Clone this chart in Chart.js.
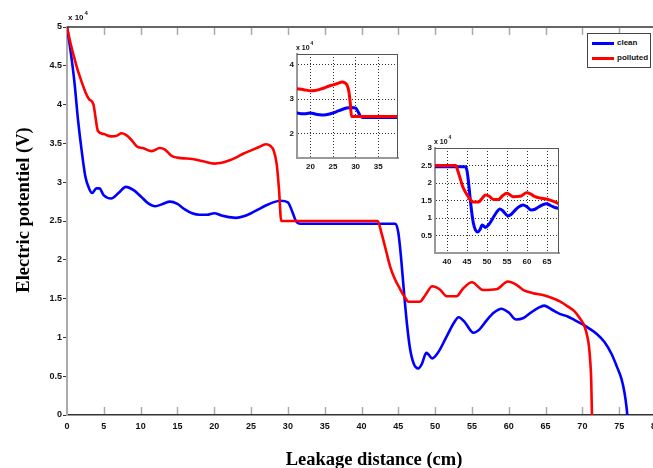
<!DOCTYPE html>
<html><head><meta charset="utf-8">
<script src="https://cdn.jsdelivr.net/npm/chart.js@4.4.1/dist/chart.umd.min.js"></script>
<style>
html,body{margin:0;padding:0;background:#fff;overflow:hidden;width:653px;height:468px;}
#wrap{position:relative;width:653px;height:468px;overflow:hidden;}
canvas{position:absolute;}
#legend{position:absolute;left:587px;top:33px;width:64px;height:35px;box-sizing:border-box;border:1px solid #444;background:#fff;font:bold 8px "Liberation Sans",Arial,sans-serif;color:#111;}
#legend .row{position:absolute;left:0;height:10px;width:62px;}
#legend .sw{position:absolute;left:4px;top:4px;width:22px;height:3px;}
#legend .lb{position:absolute;left:29px;top:0;line-height:10px;}
</style>
</head><body>
<div id="wrap">
  <canvas id="main" width="680" height="468" style="left:0;top:0"></canvas>
  <canvas id="inset1" width="135" height="137" style="left:270px;top:38px"></canvas>
  <canvas id="inset2" width="157" height="142" style="left:408px;top:128px"></canvas>
  <div id="legend"></div>
</div>
<script>
// ---- data (potential in volts, distance in cm) ----
const cleanDist = [0,0.5,1,1.5,2,2.5,3,3.4,4,4.4,5,6,7,8,9,10,11,12,13,14,15,16,17,18,19,20,21,22,23,24,25,26,27,28,29,30,30.6,31.1,31.6,38,44.6,45.0,45.4,45.8,46.2,46.6,47.1,47.7,48.2,48.8,49.1,49.6,50.5,51.5,52.5,53.2,54,55.2,56,57,58,59,60,61,62,63,64,64.8,66,67,68,69,70,71,72,73,74,74.7,75.3,75.7,76,76.1];
const cleanPot  = [50000,46800,43000,38000,34000,30700,29200,28600,29200,29200,28300,27900,28600,29400,29000,28200,27300,26900,27200,27500,27200,26500,26000,25800,25800,26000,25700,25500,25400,25600,26000,26500,27000,27400,27600,27400,26200,25000,24650,24650,24650,23500,20000,15500,11500,8500,6600,6000,6600,8000,7800,7300,8200,10000,11800,12600,12000,10600,11000,12200,13200,13700,13200,12300,12500,13200,13800,14100,13500,13000,12700,12200,11700,11100,10400,9400,7800,6200,4700,3000,1000,0];
const pollutedDist = [0,0.5,1,1.5,2,2.5,3,3.6,3.85,4.2,5,6,6.8,7.4,8,8.7,9.5,10.3,11.5,12.6,13.3,14.2,15.5,17,18.5,20,21,22,23,24,25,26,27,27.6,28.1,28.5,28.8,29.1,35,42.2,42.7,43.3,43.9,44.5,45.2,45.8,46.4,47.9,48.7,49.6,50.6,51.6,52.9,53.8,55,56.5,58.3,59.9,61,62,63.3,64.5,65.8,67,68,69,69.7,70.3,70.7,70.9,71.1,71.2,71.3];
const pollutedPot  = [50000,47800,46000,44300,42900,41600,40700,40000,38500,36600,36200,35900,36000,36300,36100,35500,34600,34400,34000,34400,34200,33400,33100,33000,32700,32400,32500,32800,33200,33700,34100,34500,34900,34700,34000,32200,29000,25000,25000,25000,23500,21300,19100,17600,16300,15300,14600,14600,15500,16600,16200,15300,15300,16300,17100,16100,16200,17200,16800,16100,15700,15500,15100,14600,14000,13300,12400,11400,10000,8800,6500,4500,0];
const seriesNames  = ['clean', 'polluted'];
const seriesColors = ['#0000ff', '#ff0000'];
const mainXTicks = [0,5,10,15,20,25,30,35,40,45,50,55,60,65,70,75,80];
const mainYTicks = [0,5000,10000,15000,20000,25000,30000,35000,40000,45000,50000];
const inset1XTicks = [20,25,30,35];
const inset1YTicks = [20000,30000,40000];
const inset2XTicks = [40,45,50,55,60,65];
const inset2YTicks = [5000,10000,15000,20000,25000,30000];
const xTitle = 'Leakage distance (cm)';
const yTitle = 'Electric potentiel (V)';
const multLabel = 'x 10';
const multExp = '4';

const SANS = '"Liberation Sans", Arial, sans-serif';
const SERIF = '"Liberation Serif", "Times New Roman", serif';

function pts(xs, ys){ return xs.map((x,i)=>({x:x, y:ys[i]})); }
function makeDatasets(w){
  return [
    {label:seriesNames[0], data:pts(cleanDist, cleanPot), borderColor:seriesColors[0], backgroundColor:seriesColors[0], borderWidth:w, pointRadius:0, cubicInterpolationMode:'monotone', fill:false, order:1},
    {label:seriesNames[1], data:pts(pollutedDist, pollutedPot), borderColor:seriesColors[1], backgroundColor:seriesColors[1], borderWidth:w, pointRadius:0, cubicInterpolationMode:'monotone', fill:false, order:0}
  ];
}
const fmt = v => String(Math.round(v/1000)/10);

function drawMult(ctx, x, y, size){
  ctx.fillStyle = '#111';
  ctx.textAlign = 'left'; ctx.textBaseline = 'middle';
  ctx.font = 'bold ' + size + 'px ' + SANS;
  ctx.fillText(multLabel, x, y);
  const w = ctx.measureText(multLabel).width;
  ctx.font = 'bold ' + Math.round(size*0.75) + 'px ' + SANS;
  ctx.fillText(multExp, x + w + 1, y - size*0.6);
}

const mainDeco = {
  id:'mainDeco',
  afterDraw(chart){
    const {ctx, chartArea:a, scales:{x}} = chart;
    ctx.save();
    ctx.strokeStyle = '#333'; ctx.lineWidth = 1.5;
    ctx.beginPath(); ctx.moveTo(a.left, a.top); ctx.lineTo(a.right, a.top); ctx.stroke();
    ctx.strokeStyle = '#aaa'; ctx.lineWidth = 1.5;
    x.ticks.forEach(t => {
      if (t.value === x.min) return;
      const px = Math.round(x.getPixelForValue(t.value)) + 0.5;
      ctx.beginPath();
      ctx.moveTo(px, a.bottom - 1); ctx.lineTo(px, a.bottom - 8);
      ctx.moveTo(px, a.top + 1); ctx.lineTo(px, a.top + 8);
      ctx.stroke();
    });
    drawMult(ctx, a.left + 1, a.top - 9, 8);
    // axis titles
    ctx.fillStyle = '#000';
    ctx.font = 'bold 18.5px ' + SERIF;
    ctx.textAlign = 'center'; ctx.textBaseline = 'alphabetic';
    ctx.fillText(xTitle, 374, 465);
    ctx.translate(28.5, 210);
    ctx.rotate(-Math.PI/2);
    ctx.fillText(yTitle, 0, 0);
    ctx.restore();
  }
};

new Chart(document.getElementById('main'), {
  type:'line',
  data:{datasets:makeDatasets(2.6)},
  options:{
    responsive:false, animation:false, devicePixelRatio:1,
    layout:{padding:{left:0, right:24, top:27, bottom:0}},
    plugins:{legend:{display:false}, tooltip:{enabled:false}, title:{display:false}},
    scales:{
      x:{type:'linear', min:0, max:80,
         afterBuildTicks:s=>{ s.ticks = mainXTicks.map(v=>({value:v})); },
         afterFit:s=>{ s.height = 53; s.paddingLeft = 0; s.paddingRight = 0; },
         grid:{drawOnChartArea:false, drawTicks:false},
         border:{color:'#333', width:1.5},
         ticks:{color:'#111', font:{family:SANS, weight:'bold', size:9}, padding:6, maxRotation:0, autoSkip:false}},
      y:{type:'linear', min:0, max:50000,
         afterBuildTicks:s=>{ s.ticks = mainYTicks.map(v=>({value:v})); },
         afterFit:s=>{ s.width = 67; s.paddingTop = 0; s.paddingBottom = 0; },
         grid:{drawOnChartArea:false, drawTicks:true, tickLength:4, color:'#333'},
         border:{color:'#aaa', width:2},
         ticks:{color:'#111', font:{family:SANS, weight:'bold', size:9}, padding:1, autoSkip:false, callback:fmt}}
    }
  },
  plugins:[mainDeco]
});

function insetDeco(id){
  return {
    id:id,
    beforeDraw(chart){
      const {ctx, chartArea:a} = chart;
      ctx.save(); ctx.fillStyle = '#fff';
      ctx.fillRect(a.left, a.top, a.right - a.left, a.bottom - a.top);
      ctx.restore();
    },
    afterDraw(chart){
      const {ctx, chartArea:a} = chart;
      ctx.save();
      ctx.strokeStyle = '#555'; ctx.lineWidth = 1;
      ctx.beginPath();
      ctx.moveTo(a.left, a.top + 0.5); ctx.lineTo(a.right, a.top + 0.5);
      ctx.moveTo(a.right - 0.5, a.top); ctx.lineTo(a.right - 0.5, a.bottom);
      ctx.stroke();
      drawMult(ctx, a.left - 1, a.top - 6, 7);
      ctx.restore();
    }
  };
}

function makeInset(id, xmin, xmax, ymin, ymax, xt, yt, padTop, padRight, yW, xH){
  new Chart(document.getElementById(id), {
    type:'line',
    data:{datasets:makeDatasets(3)},
    options:{
      responsive:false, animation:false, devicePixelRatio:1,
      layout:{padding:{left:0, right:padRight, top:padTop, bottom:0}},
      plugins:{legend:{display:false}, tooltip:{enabled:false}},
      scales:{
        x:{type:'linear', min:xmin, max:xmax,
           afterBuildTicks:s=>{ s.ticks = xt.map(v=>({value:v})); },
           afterFit:s=>{ s.height = xH; s.paddingLeft = 0; s.paddingRight = 0; },
           grid:{drawOnChartArea:true, drawTicks:false, color:'#333', lineWidth:1},
           border:{color:'#999', width:2, dash:[1,2]},
           ticks:{color:'#111', font:{family:SANS, weight:'bold', size:8}, padding:4, maxRotation:0, autoSkip:false}},
        y:{type:'linear', min:ymin, max:ymax,
           afterBuildTicks:s=>{ s.ticks = yt.map(v=>({value:v})); },
           afterFit:s=>{ s.width = yW; s.paddingTop = 0; s.paddingBottom = 0; },
           grid:{drawOnChartArea:true, drawTicks:false, color:'#333', lineWidth:1},
           border:{color:'#999', width:2, dash:[1,2]},
           ticks:{color:'#111', font:{family:SANS, weight:'bold', size:8}, padding:3, autoSkip:false, callback:fmt}}
      }
    },
    plugins:[insetDeco(id + 'Deco')]
  });
}
makeInset('inset1', 17, 39.4, 13000, 43000, inset1XTicks, inset1YTicks, 16, 7, 27, 17);
makeInset('inset2', 37, 68, 0, 30000, inset2XTicks, inset2YTicks, 20, 6, 27, 17);

// legend
const lg = document.getElementById('legend');
seriesNames.forEach((n,i)=>{
  const row = document.createElement('div'); row.className = 'row';
  row.style.top = (4 + i*15) + 'px';
  const sw = document.createElement('span'); sw.className = 'sw'; sw.style.background = seriesColors[i];
  const lb = document.createElement('span'); lb.className = 'lb'; lb.textContent = n;
  row.appendChild(sw); row.appendChild(lb); lg.appendChild(row);
});
</script>
</body></html>
